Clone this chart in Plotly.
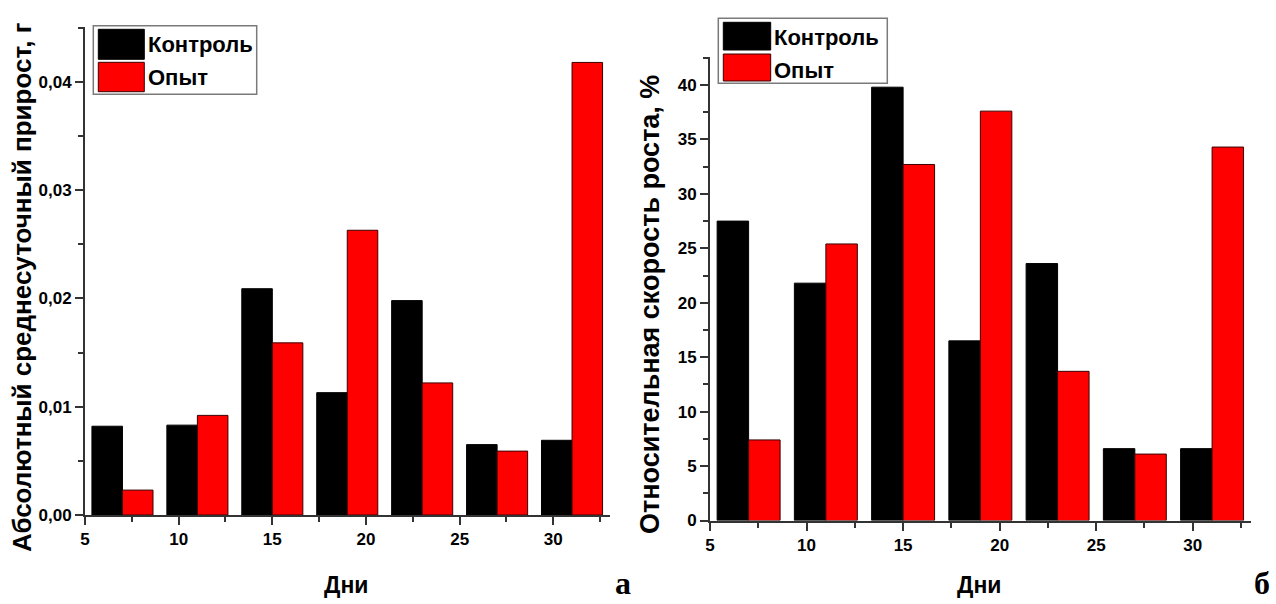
import plotly.graph_objects as go

# ---------------- data ----------------
days = [7, 11, 15, 19, 23, 27, 31]
abs_control = [0.0082, 0.0083, 0.0209, 0.0113, 0.0198, 0.0065, 0.0069]
abs_experiment = [0.0023, 0.0092, 0.0159, 0.0263, 0.0122, 0.0059, 0.0418]
rel_control = [27.5, 21.8, 39.8, 16.5, 23.6, 6.6, 6.6]
rel_experiment = [7.4, 25.4, 32.7, 37.6, 13.7, 6.1, 34.3]
series_names = ["Контроль", "Опыт"]
x_title = "Дни"
y_title_left = "Абсолютный среднесуточный прирост, г"
y_title_right = "Относительная скорость роста, %"
panel_labels = ["а", "б"]

W, H = 1276, 604
def px(x):
    return x / W
def py(y):
    return 1 - y / H

BLACK = "#000000"
RED = "#ff0000"
AX = "#333333"
SANS = "Liberation Sans, Arial, sans-serif"
TICKFONT = dict(family=SANS, size=17, color="black", weight="bold")

fig = go.Figure()
fig.add_trace(go.Bar(x=days, y=abs_control, name=series_names[0], marker=dict(color=BLACK, line=dict(color="#000", width=1)),
                     xaxis="x", yaxis="y", showlegend=False))
fig.add_trace(go.Bar(x=days, y=abs_experiment, name=series_names[1], marker=dict(color=RED, line=dict(color="#3a0000", width=1)),
                     xaxis="x", yaxis="y", showlegend=False))
fig.add_trace(go.Bar(x=days, y=rel_control, name=series_names[0], marker=dict(color=BLACK, line=dict(color="#000", width=1)),
                     xaxis="x2", yaxis="y2", showlegend=False))
fig.add_trace(go.Bar(x=days, y=rel_experiment, name=series_names[1], marker=dict(color=RED, line=dict(color="#3a0000", width=1)),
                     xaxis="x2", yaxis="y2", showlegend=False))

def xax(domain, anchor):
    return dict(domain=domain, anchor=anchor, range=[5, 33], tick0=5, dtick=5,
                ticks="outside", ticklen=8, tickwidth=2, tickcolor=AX,
                showline=True, linewidth=2, linecolor=AX, showgrid=False, zeroline=False,
                tickfont=TICKFONT, automargin=False,
                minor=dict(ticks="outside", ticklen=5, tickwidth=2, tickcolor=AX, dtick=2.5, tick0=5, showgrid=False))

def yax(domain, anchor, rng, dtick, fmt):
    return dict(domain=domain, anchor=anchor, range=rng, tick0=0, dtick=dtick, tickformat=fmt,
                ticks="outside", ticklen=8, tickwidth=2, tickcolor=AX,
                showline=True, linewidth=2, linecolor=AX, showgrid=False, zeroline=False,
                tickfont=TICKFONT, automargin=False,
                minor=dict(ticks="outside", ticklen=5, tickwidth=2, tickcolor=AX, dtick=dtick / 2, showgrid=False))

fig.update_layout(
    width=W, height=H, margin=dict(l=0, r=0, t=0, b=0, autoexpand=False),
    paper_bgcolor="white", plot_bgcolor="white",
    font=dict(family=SANS, size=17, color="black"),
    barmode="group", bargap=0.185, bargroupgap=0,
    separators=", ",
    xaxis=xax([px(85), px(609.5)], "y"),
    yaxis=yax([py(515), py(26.7)], "x", [0, 0.0451], 0.01, ".2f"),
    xaxis2=xax([px(710), px(1250.7)], "y2"),
    yaxis2=yax([py(520.5), py(56.7)], "x2", [0, 42.6], 5, "d"),
)

# legends drawn as boxes
def legend(box, sw_x, sw_y1, sw_y2, text_x, text_y):
    x0, y0, x1, y1 = box
    fig.add_shape(type="rect", xref="paper", yref="paper", x0=px(x0), x1=px(x1), y0=py(y1), y1=py(y0),
                  line=dict(color="#7a7a7a", width=1.5), fillcolor="white")
    fig.add_shape(type="rect", xref="paper", yref="paper", x0=px(sw_x[0]), x1=px(sw_x[1]), y0=py(sw_y1[1]), y1=py(sw_y1[0]),
                  line=dict(color="#000", width=1), fillcolor=BLACK)
    fig.add_shape(type="rect", xref="paper", yref="paper", x0=px(sw_x[0]), x1=px(sw_x[1]), y0=py(sw_y2[1]), y1=py(sw_y2[0]),
                  line=dict(color="#3a0000", width=1), fillcolor=RED)
    for name, ty in zip(series_names, text_y):
        fig.add_annotation(xref="paper", yref="paper", x=px(text_x), y=py(ty), text=name, showarrow=False,
                           xanchor="left", yanchor="middle",
                           font=dict(family=SANS, size=22, color="black", weight="bold"))

legend((93.3, 25.7, 256.7, 94.3), (98.3, 144.3), (29.3, 59.3), (62.3, 91.7), 146, (45, 77))
legend((718.3, 18.3, 887.3, 83.3), (723.3, 770.7), (22.3, 50), (54, 81), 772, (37.7, 70))

# axis titles
fig.add_annotation(xref="paper", yref="paper", x=px(22), y=py(287), text=y_title_left, textangle=-90,
                   showarrow=False, xanchor="center", yanchor="middle",
                   font=dict(family=SANS, size=26, color="black", weight="bold"))
fig.add_annotation(xref="paper", yref="paper", x=px(650), y=py(305), text=y_title_right, textangle=-90,
                   showarrow=False, xanchor="center", yanchor="middle",
                   font=dict(family=SANS, size=27, color="black", weight="bold"))
for cx in (346, 979):
    fig.add_annotation(xref="paper", yref="paper", x=px(cx), y=py(585), text=x_title, showarrow=False,
                       xanchor="center", yanchor="middle",
                       font=dict(family=SANS, size=23, color="black", weight="bold"))
for cx, lab in zip((623, 1262), panel_labels):
    fig.add_annotation(xref="paper", yref="paper", x=px(cx), y=py(603), text=lab, showarrow=False,
                       xanchor="center", yanchor="bottom",
                       font=dict(family="Liberation Serif, Times New Roman, serif", size=32, color="black", weight="bold"))

fig.write_html("out.html")
